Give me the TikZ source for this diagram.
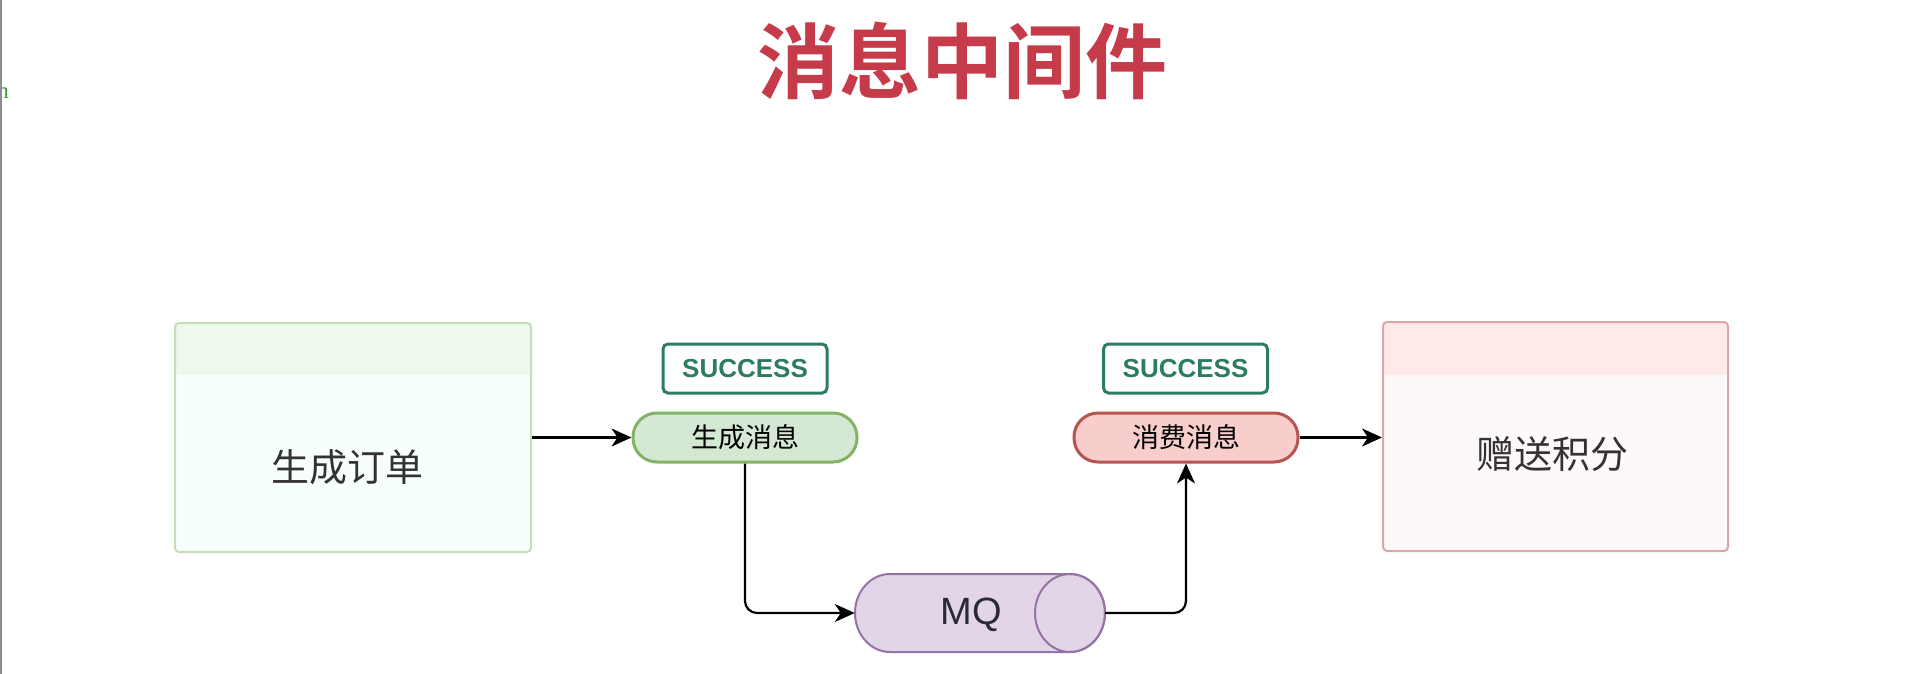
\documentclass[tikz,border=0pt]{standalone}
\usepackage{fontspec}
\usetikzlibrary{arrows.meta}
\newfontfamily\cjk{Noto Sans CJK SC}
\newfontfamily\cjkbold{Noto Sans CJK SC Bold}
\newfontfamily\lsans{Liberation Sans}
\newfontfamily\lserif{Liberation Serif}
\definecolor{titlered}{HTML}{C63B4A}
\definecolor{lborder}{HTML}{C6DDBA}
\definecolor{lhead}{HTML}{EEF8EC}
\definecolor{lbody}{HTML}{F7FFFD}
\definecolor{rborder}{HTML}{D8A9AA}
\definecolor{rhead}{HTML}{FFE9E9}
\definecolor{rbody}{HTML}{FFF8F8}
\definecolor{gfill}{HTML}{D5E8D4}
\definecolor{gline}{HTML}{82B366}
\definecolor{pfill}{HTML}{F8CECC}
\definecolor{pline}{HTML}{B85450}
\definecolor{succ}{HTML}{2C7C64}
\definecolor{mqfill}{HTML}{E1D5E7}
\definecolor{mqline}{HTML}{9673A6}
\definecolor{txt}{HTML}{333333}
\definecolor{mqtxt}{HTML}{2B2B38}
\definecolor{fraggreen}{HTML}{3A9A3A}
\tikzset{
  bigbox/.style={rectangle, rounded corners=4pt, line width=2pt, minimum height=229pt, inner sep=0pt},
  pill/.style={rectangle, rounded corners=24pt, line width=3pt, minimum width=224pt, minimum height=49pt, inner sep=0pt, font=\cjk\fontsize{27}{30}\selectfont},
  succbox/.style={rectangle, rounded corners=5pt, draw=succ, line width=3pt, minimum width=164pt, minimum height=49pt, inner sep=0pt, text=succ, font=\lsans\bfseries\fontsize{26}{30}\selectfont},
  boxtext/.style={text=txt, font=\cjk\fontsize{38}{44}\selectfont, inner sep=0pt},
  arr/.style={line width=2.2pt, -{Stealth[length=20pt,width=18pt,inset=6pt]}},
  mqline/.style={draw=mqline, line width=2pt},
}
\begin{document}
\begin{tikzpicture}[x=1pt,y=-1pt]
\useasboundingbox (0,0) rectangle (1920,674);
\fill[white] (0,0) rectangle (1920,674);
\node[text=fraggreen, font=\lserif\fontsize{23}{24}\selectfont, inner sep=0pt, anchor=base east] (frag) at (9,99) {n};
\fill[white] (-20,0) rectangle (0,674);
\fill[gray!90] (0,0) rectangle (2,674);

\node[text=titlered, font=\cjkbold\fontsize{82}{90}\selectfont, inner sep=0pt] (title) at (962,61) {消息中间件};

% left box
\node[bigbox, minimum width=356pt, fill=lbody, draw=lborder,
  path picture={\fill[lhead] (path picture bounding box.north west) rectangle ([yshift=-52pt]path picture bounding box.north east);}] (lbox) at (353,437.5) {};
\node[boxtext] (ltext) at (347,467) {生成订单};

% right box
\node[bigbox, minimum width=345pt, fill=rbody, draw=rborder,
  path picture={\fill[rhead] (path picture bounding box.north west) rectangle ([yshift=-53pt]path picture bounding box.north east);}] (rbox) at (1555.5,436.5) {};
\node[boxtext] (rtext) at (1552,454) {赠送积分};

% pills
\node[pill, fill=gfill, draw=gline] (p1) at (745,437.5) {生成消息};
\node[pill, fill=pfill, draw=pline] (p2) at (1186,437.5) {消费消息};

% success
\node[succbox] (s1) at (745,368.5) {SUCCESS};
\node[succbox] (s2) at (1185.5,368.5) {SUCCESS};

% MQ cylinder (horizontal)
\node[rectangle, minimum width=250pt, minimum height=78pt, inner sep=0pt] (mq) at (980,613) {};
\path[mqline, fill=mqfill] (890,574) -- (1070,574) arc(-90:90:35 and 39) -- (890,652) arc(90:270:35 and 39) -- cycle;
\draw[mqline] (1070,613) ellipse (35 and 39);
\node[text=mqtxt, font=\lsans\fontsize{38}{42}\selectfont, inner sep=0pt] (mqt) at (971,615) {MQ};

% connectors
\draw[arr] (lbox.east |- p1.west) -- (p1.west);
\draw[arr, rounded corners=12pt] (p1.south) |- (mq.west);
\draw[arr, rounded corners=12pt] (mq.east) -| (p2.south);
\draw[arr] (p2.east) -- (rbox.west |- p2.east);
\end{tikzpicture}
\end{document}
